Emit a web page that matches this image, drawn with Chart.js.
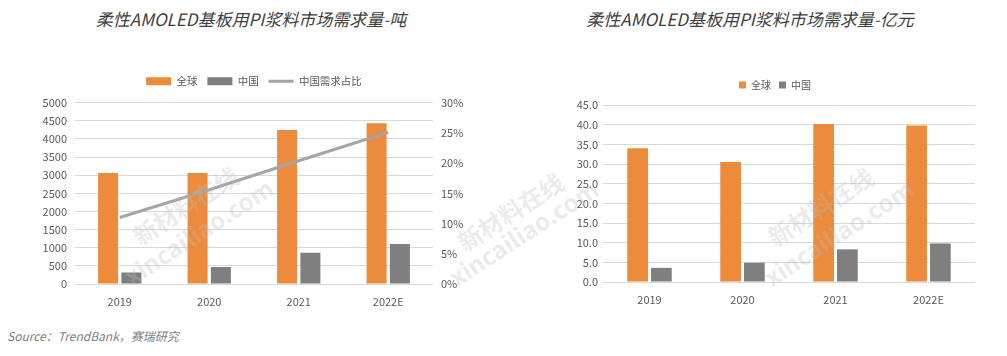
<!DOCTYPE html>
<html><head><meta charset="utf-8">
<script src="https://cdn.jsdelivr.net/npm/chart.js@4.4.1/dist/chart.umd.min.js"></script>
<style>
html,body{margin:0;padding:0;background:#fff;}
body{width:1007px;height:356px;overflow:hidden;position:relative;font-family:"Noto Sans CJK SC","Noto Sans",sans-serif;}
.title{position:absolute;top:6px;font-size:17px;font-style:italic;color:#404040;white-space:nowrap;transform:translateX(-50%);line-height:26px;}
.src{position:absolute;left:7px;top:328px;font-size:12px;font-style:italic;color:#7f7f7f;white-space:nowrap;line-height:16px;}
.cv{position:absolute;}
.wm{position:absolute;font-weight:bold;font-size:24px;color:rgba(190,190,190,0.3);white-space:nowrap;transform:translate(-50%,-50%) rotate(-33deg);pointer-events:none;z-index:5;}
</style></head>
<body>
<div class="title" style="left:251px">柔性AMOLED基板用PI浆料市场需求量-吨</div>
<div class="title" style="left:750px">柔性AMOLED基板用PI浆料市场需求量-亿元</div>
<div class="cv" style="left:28px;top:66px;width:452px;height:248px"><canvas id="c1"></canvas></div>
<div class="cv" style="left:575px;top:72px;width:425px;height:240px"><canvas id="c2"></canvas></div>
<div class="src">Source：TrendBank，赛瑞研究</div>
<div class="wm" style="left:185px;top:205px">新材料在线</div>
<div class="wm" style="left:198px;top:231px">xincailiao.com</div>
<div class="wm" style="left:510px;top:211px">新材料在线</div>
<div class="wm" style="left:523px;top:232px">xincailiao.com</div>
<div class="wm" style="left:820px;top:206px">新材料在线</div>
<div class="wm" style="left:838px;top:232px">xincailiao.com</div>
<script>
const categories = ['2019', '2020', '2021', '2022E'];
const seriesNames = ['全球', '中国', '中国需求占比'];
const globalTons = [3060, 3060, 4250, 4430];
const chinaTons = [320, 470, 860, 1100];
const chinaSharePct = [11.0, 15.6, 20.4, 25.1];
const globalValue = [34.0, 30.5, 40.2, 39.8];
const chinaValue = [3.6, 4.9, 8.3, 9.8];

const ORANGE = '#ED8B3D';
const GREY = '#7F7F7F';
const LINEGREY = '#A5A5A5';
const GRID = '#D9D9D9';
const TICK = '#595959';
const FONT = '"Noto Sans CJK SC","Noto Sans",sans-serif';

Chart.defaults.font.family = FONT;
Chart.defaults.font.size = 11;
Chart.defaults.color = TICK;
Chart.defaults.animation = false;

// empty layout box between legend and plot area
function legendGap(h) {
  return {
    id: 'legendGap',
    beforeInit(chart) {
      Chart.layouts.addBox(chart, {
        position: 'top', weight: 0, fullSize: true, options: {},
        isHorizontal() { return true; },
        update(w) { this.width = w; this.height = h; },
        draw() {}
      });
    }
  };
}

new Chart(document.getElementById('c1'), {
  type: 'bar',
  data: {
    labels: categories,
    datasets: [
      {label: seriesNames[0], data: globalTons, backgroundColor: ORANGE, pointStyle: 'rect', order: 1, yAxisID: 'y',
       categoryPercentage: 0.52, barPercentage: 0.86},
      {label: seriesNames[1], data: chinaTons, backgroundColor: GREY, pointStyle: 'rect', order: 1, yAxisID: 'y',
       categoryPercentage: 0.52, barPercentage: 0.86},
      {type: 'line', label: seriesNames[2], data: chinaSharePct, borderColor: LINEGREY, backgroundColor: LINEGREY,
       borderWidth: 3, pointRadius: 0, pointStyle: 'line', order: 0, yAxisID: 'y1', tension: 0}
    ]
  },
  plugins: [legendGap(6.2)],
  options: {
    responsive: true, maintainAspectRatio: false,
    layout: {padding: 0},
    plugins: {
      legend: {position: 'top', labels: {usePointStyle: true, pointStyleWidth: 25, boxHeight: 8, padding: 10,
        color: TICK, font: {size: 10.5}, sort: (a, b) => a.datasetIndex - b.datasetIndex}},
      tooltip: {enabled: false}
    },
    scales: {
      x: {grid: {display: false}, border: {display: false},
          ticks: {padding: 3, color: TICK, font: {size: 11}},
          afterFit: s => { s.height = 30; }},
      y: {position: 'left', min: 0, max: 5000, grid: {color: GRID, drawTicks: false}, border: {display: false},
          ticks: {stepSize: 500, padding: 8, color: TICK, font: {size: 11}, callback: v => String(v)},
          afterFit: s => { s.width = 47; }},
      y1: {position: 'right', min: 0, max: 30, grid: {drawOnChartArea: false, drawTicks: false}, border: {display: false},
          ticks: {stepSize: 5, padding: 8, color: TICK, font: {size: 11}, callback: v => v + '%'},
          afterFit: s => { s.width = 47; }}
    }
  }
});

new Chart(document.getElementById('c2'), {
  type: 'bar',
  data: {
    labels: categories,
    datasets: [
      {label: seriesNames[0], data: globalValue, backgroundColor: ORANGE, categoryPercentage: 0.51, barPercentage: 0.875},
      {label: seriesNames[1], data: chinaValue, backgroundColor: GREY, categoryPercentage: 0.51, barPercentage: 0.875}
    ]
  },
  plugins: [legendGap(5)],
  options: {
    responsive: true, maintainAspectRatio: false,
    layout: {padding: {left: 0, right: 25, top: 0, bottom: 0}},
    plugins: {
      legend: {position: 'top', labels: {boxWidth: 7, boxHeight: 7, padding: 8, color: TICK, font: {size: 10}}},
      tooltip: {enabled: false}
    },
    scales: {
      x: {grid: {display: false}, border: {display: false},
          ticks: {padding: 3, color: TICK, font: {size: 11}},
          afterFit: s => { s.height = 30; }},
      y: {min: 0, max: 45, grid: {color: GRID, drawTicks: false}, border: {display: false},
          ticks: {stepSize: 5, padding: 5, color: TICK, font: {size: 11}, callback: v => Number(v).toFixed(1)},
          afterFit: s => { s.width = 28; }}
    }
  }
});
</script>
</body></html>
